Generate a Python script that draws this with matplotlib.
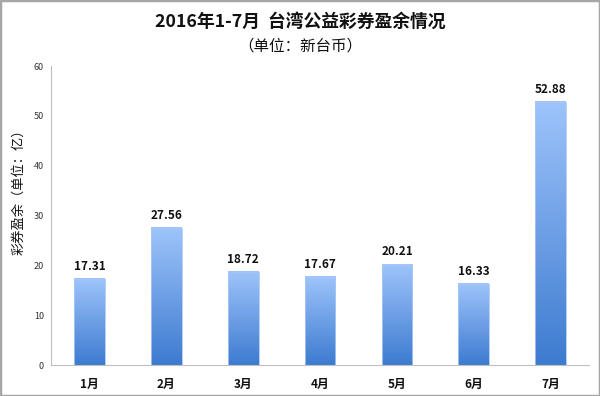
import matplotlib
matplotlib.use("Agg")
import matplotlib.pyplot as plt
import numpy as np
from matplotlib.patches import Rectangle
from matplotlib.colors import LinearSegmentedColormap

plt.rcParams['font.family'] = ['Noto Sans CJK SC', 'DejaVu Sans']

months = ['1月', '2月', '3月', '4月', '5月', '6月', '7月']
values = [17.31, 27.56, 18.72, 17.67, 20.21, 16.33, 52.88]
yticks = [0, 10, 20, 30, 40, 50, 60]

fig = plt.figure(figsize=(6, 3.96), dpi=100)
ax = fig.add_axes([0.085, 0.078, 0.897, 0.755])

x = np.arange(len(months))
w = 0.4
bars = ax.bar(x, values, width=w, color='none', edgecolor='#a9c8f5', linewidth=0.6, zorder=3)
grad = np.linspace(0, 1, 256).reshape(-1, 1)
cmap = LinearSegmentedColormap.from_list('g', ['#3d7bd0', '#9ec4fb'])
for b, v in zip(bars, values):
    x0 = b.get_x()
    ax.imshow(grad, extent=[x0, x0 + w, 0, v], origin='lower', cmap=cmap,
              aspect='auto', zorder=2)
    ax.text(b.get_x() + w / 2, v + 1.2, f'{v:.2f}', ha='center', va='bottom',
            fontsize=8.5, fontweight='bold', color='#111111')

ax.set_xlim(-0.5, len(months) - 0.5)
ax.set_ylim(0, 60)
ax.set_yticks(yticks)
ax.set_yticklabels([str(t) for t in yticks], fontsize=6.5, color='#333333')
ax.set_xticks(x)
ax.set_xticklabels(months, fontsize=8.5, fontweight='bold', color='#111111')
ax.tick_params(axis='x', length=0, pad=9)
ax.tick_params(axis='y', length=0, pad=5)
for s in ['top', 'right']:
    ax.spines[s].set_visible(False)
for s in ['left', 'bottom']:
    ax.spines[s].set_color('#bfbfbf')
    ax.spines[s].set_linewidth(0.8)
ax.set_ylabel('彩券盈余（单位：亿）', fontsize=9.5, color='#111111')
ax.yaxis.set_label_coords(-0.047, 0.59)

fig.text(0.5, 0.945, '2016年1-7月  台湾公益彩券盈余情况', ha='center', va='center',
         fontsize=12.8, fontweight='bold', color='#111111')
fig.text(0.5, 0.885, '（单位：新台币）', ha='center', va='center',
         fontsize=11.2, color='#111111')

fig.patches.append(Rectangle((0, 0), 1, 1, transform=fig.transFigure, fill=False,
                             edgecolor='#a6a6a6', linewidth=2.5))

fig.savefig('out.png', dpi=100)
